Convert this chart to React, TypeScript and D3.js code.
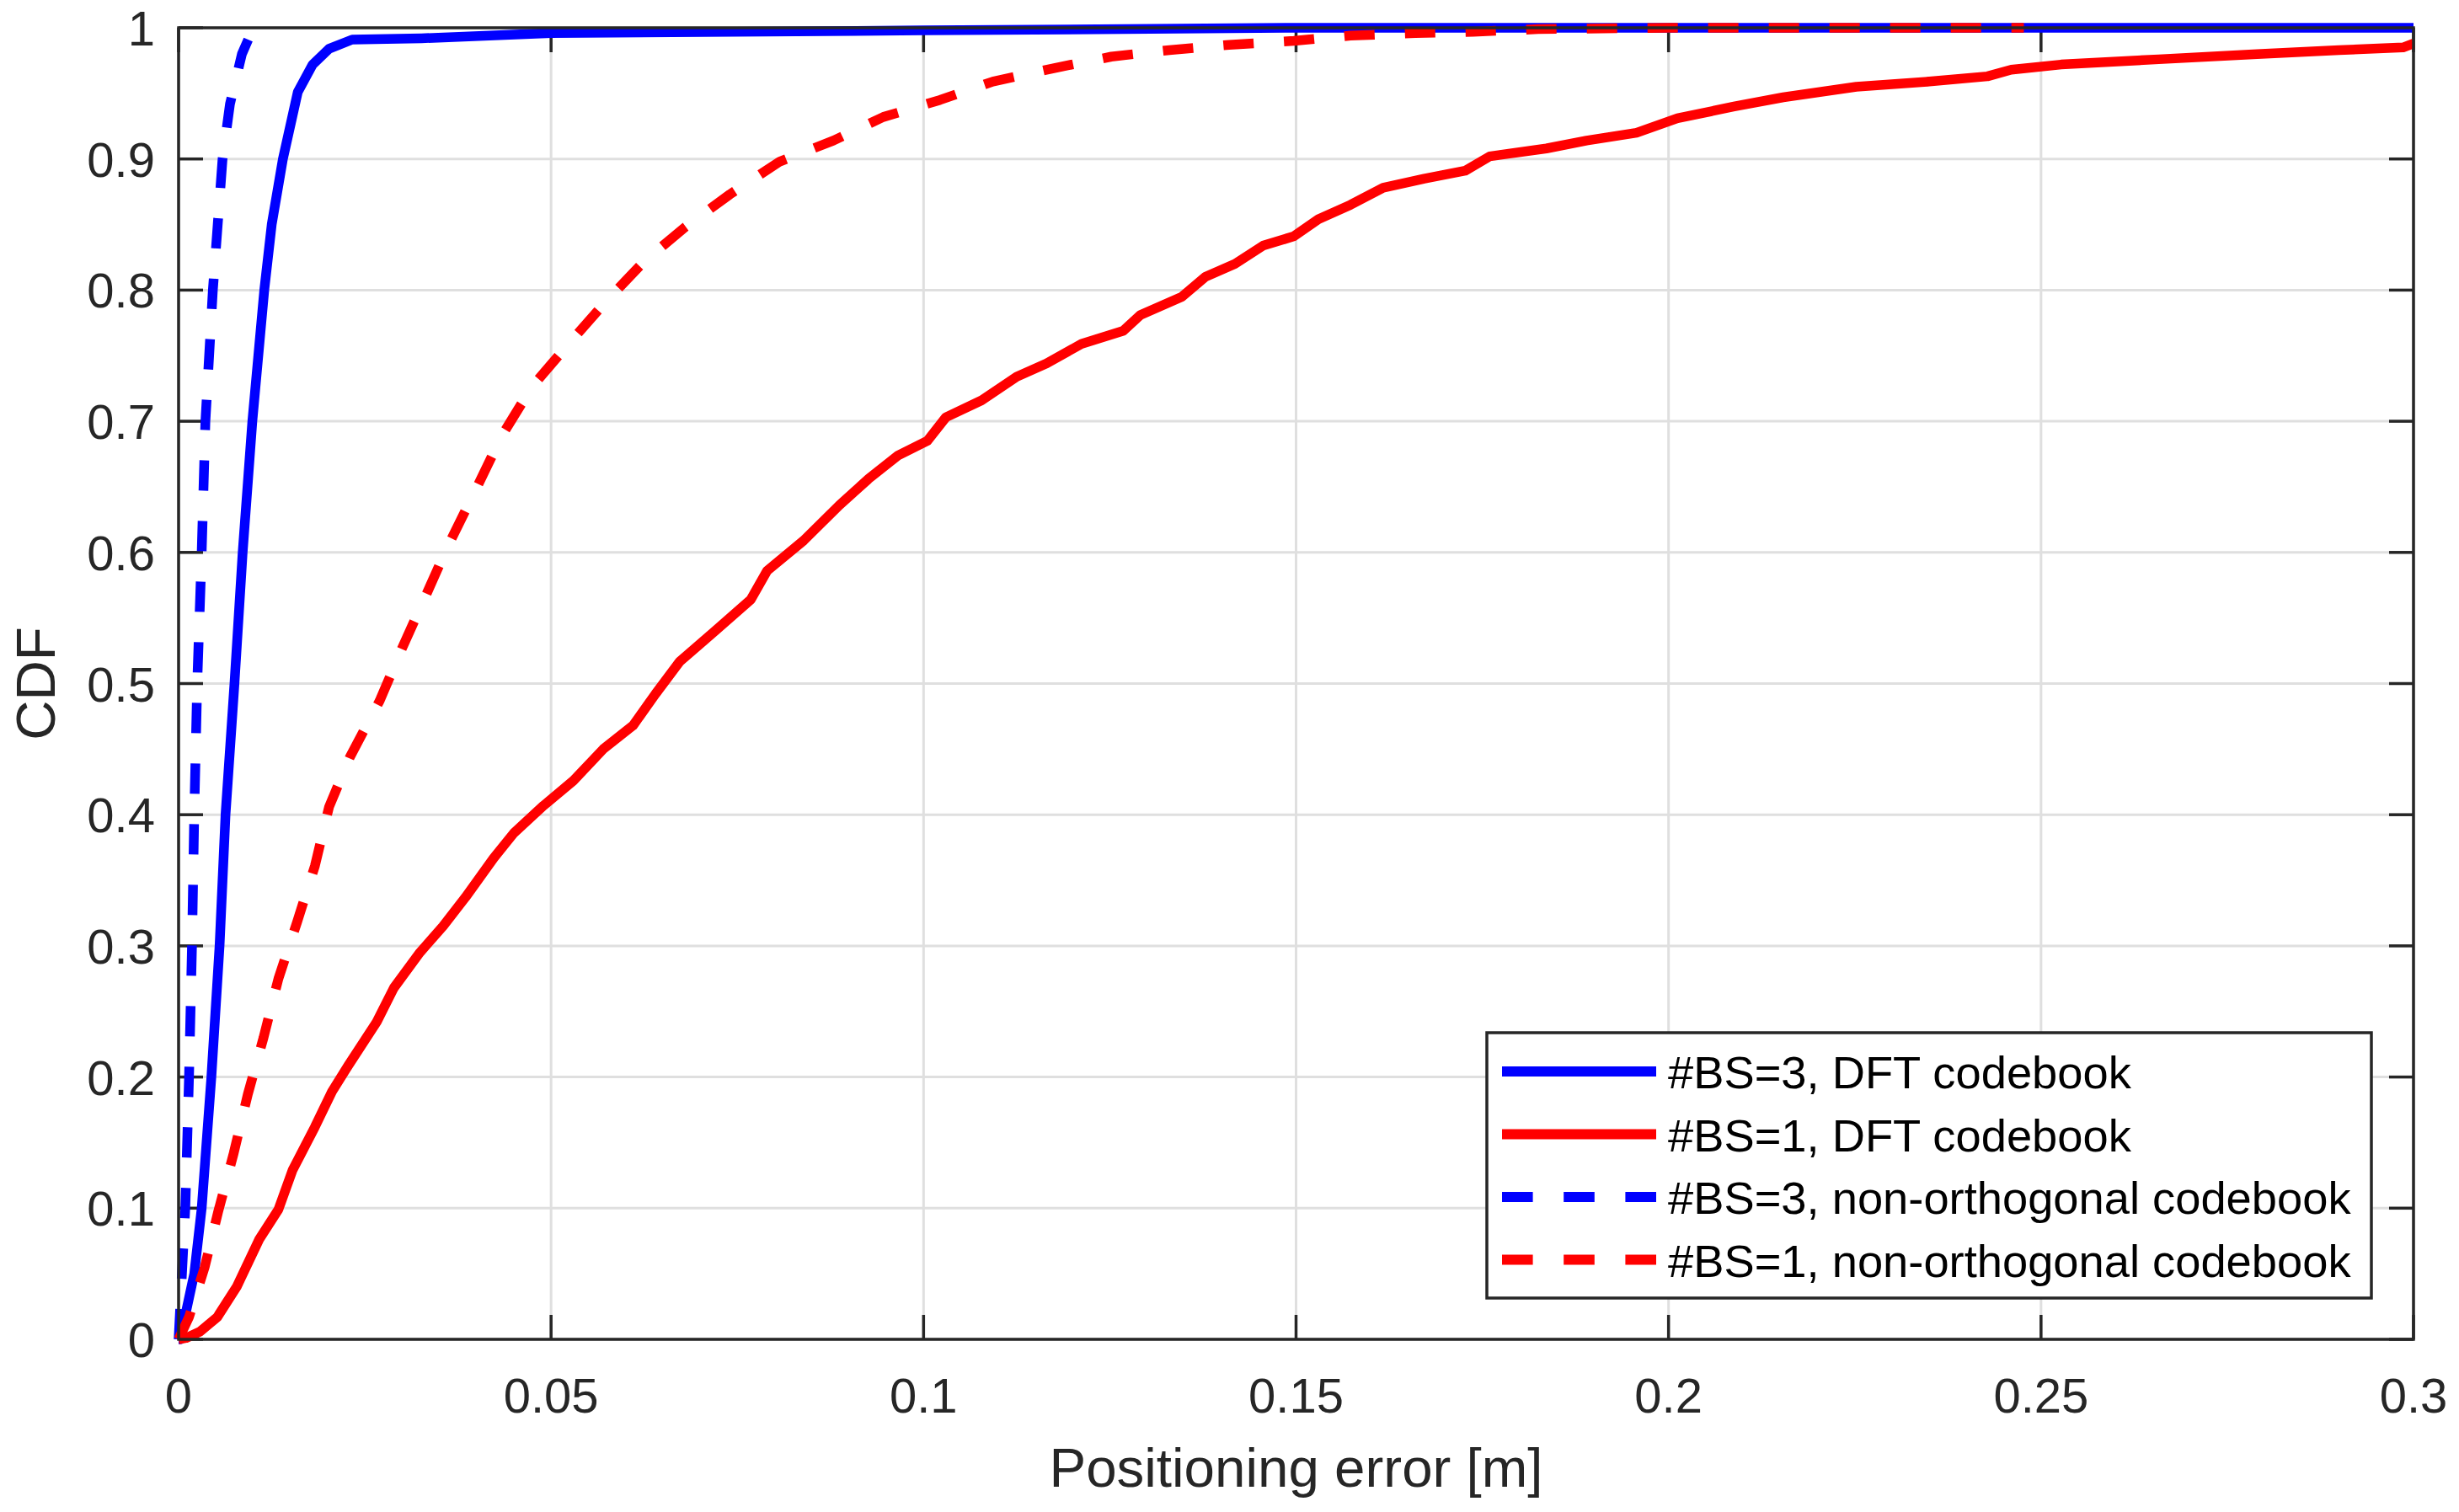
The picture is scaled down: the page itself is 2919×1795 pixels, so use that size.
import * as d3 from "d3";

// CDF samples: [positioning error (m), CDF]
const bs3Dft: [number, number][] = [
  [0, 0], [0.0002, 0.0], [0.0021, 0.05], [0.0031, 0.1], [0.0044, 0.2],
  [0.0055, 0.3], [0.0063, 0.4], [0.0075, 0.5], [0.0086, 0.6], [0.0099, 0.7],
  [0.0115, 0.8], [0.0125, 0.85], [0.014, 0.9], [0.016, 0.951], [0.018, 0.972],
  [0.0202, 0.984], [0.0233, 0.991], [0.0326, 0.992], [0.05, 0.996],
  [0.1, 0.998], [0.15, 1], [0.3, 1],
];

const bs1Dft: [number, number][] = [
  [0, 0], [0.001, 0.001], [0.0029, 0.006], [0.0052, 0.017], [0.0078, 0.04],
  [0.0108, 0.076], [0.0134, 0.099], [0.0153, 0.129], [0.0183, 0.162],
  [0.0206, 0.189], [0.0228, 0.209], [0.0266, 0.242], [0.0289, 0.268],
  [0.0324, 0.295], [0.0355, 0.315], [0.0385, 0.337], [0.0423, 0.367],
  [0.045, 0.386], [0.049, 0.407], [0.053, 0.426], [0.057, 0.45],
  [0.061, 0.468], [0.064, 0.492], [0.0673, 0.517], [0.072, 0.54],
  [0.0768, 0.564], [0.079, 0.586], [0.0839, 0.609], [0.0887, 0.636],
  [0.0926, 0.656], [0.0966, 0.674], [0.1005, 0.685], [0.103, 0.703],
  [0.1078, 0.716], [0.1125, 0.734], [0.1165, 0.744], [0.1212, 0.759],
  [0.1268, 0.769], [0.1291, 0.781], [0.1347, 0.795], [0.1378, 0.81],
  [0.1418, 0.82], [0.1456, 0.834], [0.1497, 0.841], [0.153, 0.854],
  [0.1573, 0.865], [0.1617, 0.878], [0.1672, 0.885], [0.1727, 0.891],
  [0.176, 0.902], [0.1836, 0.908], [0.189, 0.914], [0.1957, 0.92],
  [0.2012, 0.931], [0.2088, 0.94], [0.2154, 0.947], [0.2252, 0.955],
  [0.235, 0.959], [0.2428, 0.963], [0.246, 0.968], [0.2527, 0.972],
  [0.2658, 0.976], [0.279, 0.98], [0.29, 0.983], [0.2986, 0.985],
  [0.3, 0.988],
];

const bs3NonOrth: [number, number][] = [
  [0, 0], [0.0009, 0.1], [0.0014, 0.2], [0.0018, 0.3], [0.0021, 0.4],
  [0.0025, 0.5], [0.0031, 0.6], [0.0036, 0.7], [0.0046, 0.8], [0.0059, 0.9],
  [0.0069, 0.942], [0.0085, 0.98], [0.0098, 0.997], [0.0102, 1],
];

const bs1NonOrth: [number, number][] = [
  [0, 0], [0.0014, 0.017], [0.0035, 0.055], [0.0053, 0.097], [0.0074, 0.142],
  [0.0093, 0.187], [0.0114, 0.23], [0.0134, 0.275], [0.0159, 0.318],
  [0.0183, 0.361], [0.0202, 0.406], [0.023, 0.444], [0.027, 0.487],
  [0.030, 0.527], [0.0331, 0.566], [0.036, 0.603], [0.0399, 0.648],
  [0.0434, 0.689], [0.0474, 0.726], [0.0522, 0.758], [0.057, 0.789],
  [0.0625, 0.822], [0.068, 0.848], [0.074, 0.873], [0.0807, 0.898],
  [0.0879, 0.914], [0.0946, 0.932], [0.1022, 0.945], [0.1093, 0.959],
  [0.1173, 0.969], [0.1252, 0.978], [0.133, 0.983], [0.141, 0.987],
  [0.1497, 0.99], [0.1573, 0.994], [0.166, 0.996], [0.1738, 0.997],
  [0.1825, 0.999], [0.2, 1], [0.2477, 1],
];

const xTicks = [0, 0.05, 0.1, 0.15, 0.2, 0.25, 0.3];
const yTicks = [0, 0.1, 0.2, 0.3, 0.4, 0.5, 0.6, 0.7, 0.8, 0.9, 1];

const series = [
  { name: "#BS=3, DFT codebook", data: bs3Dft, color: "#0000ff", dashed: false },
  { name: "#BS=1, DFT codebook", data: bs1Dft, color: "#ff0000", dashed: false },
  { name: "#BS=3, non-orthogonal codebook", data: bs3NonOrth, color: "#0000ff", dashed: true },
  { name: "#BS=1, non-orthogonal codebook", data: bs1NonOrth, color: "#ff0000", dashed: true },
];

const W = 2919;
const H = 1795;
const margin = { left: 212, top: 33, right: W - 2865, bottom: H - 1590 };
const axisColor = "#262626";
const font = "'Liberation Sans', Arial, Helvetica, sans-serif";

export default function App() {
  const x = d3.scaleLinear().domain([0, 0.3]).range([margin.left, W - margin.right]);
  const y = d3.scaleLinear().domain([0, 1]).range([H - margin.bottom, margin.top]);
  const line = d3
    .line<[number, number]>()
    .x((d) => x(d[0]))
    .y((d) => y(d[1]));

  const x0 = x(0);
  const x1 = x(0.3);
  const y0 = y(0);
  const y1 = y(1);
  const tickLen = 29;

  // legend box
  const lg = { x: 1765, y: 1226, w: 1050, h: 315 };
  const rowY = (i: number) => 1272 + i * 74.5;

  return (
    <svg
      width={W}
      height={H}
      style={{ position: "absolute", left: 0, top: 0, background: "#fff" }}
      fontFamily={font}
    >
      <rect width={W} height={H} fill="#fff" />

      {/* grid */}
      <g stroke="#dfdfdf" strokeWidth={3}>
        {xTicks.map((t) => (
          <line key={"gx" + t} x1={x(t)} x2={x(t)} y1={y0} y2={y1} />
        ))}
        {yTicks.map((t) => (
          <line key={"gy" + t} x1={x0} x2={x1} y1={y(t)} y2={y(t)} />
        ))}
      </g>

      {/* ticks on all four sides */}
      <g stroke={axisColor} strokeWidth={3.5}>
        {xTicks.map((t) => (
          <g key={"tx" + t}>
            <line x1={x(t)} x2={x(t)} y1={y0} y2={y0 - tickLen} />
            <line x1={x(t)} x2={x(t)} y1={y1} y2={y1 + tickLen} />
          </g>
        ))}
        {yTicks.map((t) => (
          <g key={"ty" + t}>
            <line x1={x0} x2={x0 + tickLen} y1={y(t)} y2={y(t)} />
            <line x1={x1} x2={x1 - tickLen} y1={y(t)} y2={y(t)} />
          </g>
        ))}
      </g>

      {/* curves */}
      {series.map((s) => (
        <path
          key={s.name}
          d={line(s.data) ?? ""}
          fill="none"
          stroke={s.color}
          strokeWidth={11.5}
          strokeLinejoin="round"
          strokeDasharray={s.dashed ? "36 36" : undefined}
        />
      ))}

      {/* axes box */}
      <rect
        x={x0}
        y={y1}
        width={x1 - x0}
        height={y0 - y1}
        fill="none"
        stroke={axisColor}
        strokeWidth={3.5}
      />

      {/* tick labels */}
      <g fill={axisColor} fontSize={58}>
        {xTicks.map((t) => (
          <text key={"lx" + t} x={x(t)} y={y0 + 87} textAnchor="middle">
            {String(t)}
          </text>
        ))}
        {yTicks.map((t) => (
          <text key={"ly" + t} x={x0 - 28} y={y(t) + 21} textAnchor="end">
            {String(t)}
          </text>
        ))}
      </g>

      {/* axis labels */}
      <text
        x={(x0 + x1) / 2}
        y={1765}
        textAnchor="middle"
        fontSize={65.5}
        fill={axisColor}
      >
        Positioning error [m]
      </text>
      <text
        transform={`translate(65,${(y0 + y1) / 2}) rotate(-90)`}
        textAnchor="middle"
        fontSize={65.5}
        fill={axisColor}
      >
        CDF
      </text>

      {/* legend */}
      <rect
        x={lg.x}
        y={lg.y}
        width={lg.w}
        height={lg.h}
        fill="#fff"
        stroke={axisColor}
        strokeWidth={3.5}
      />
      {series.map((s, i) => (
        <g key={"lg" + s.name}>
          <line
            x1={1783}
            x2={1966}
            y1={rowY(i)}
            y2={rowY(i)}
            stroke={s.color}
            strokeWidth={12}
            strokeDasharray={s.dashed ? "36.6 36.6" : undefined}
          />
          <text x={1980} y={rowY(i) + 20} fontSize={54.3} fill="#000">
            {s.name}
          </text>
        </g>
      ))}
    </svg>
  );
}
